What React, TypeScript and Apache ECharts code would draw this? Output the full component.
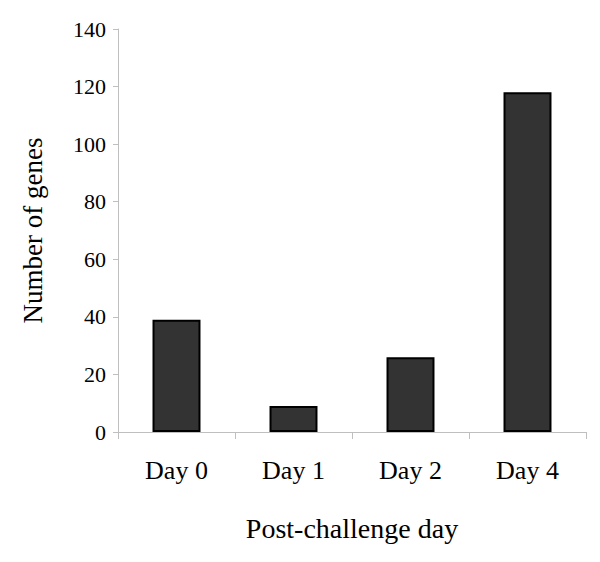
import React, { useEffect, useRef } from "react";
import * as echarts from "echarts";

const categories = ["Day 0", "Day 1", "Day 2", "Day 4"];
const geneCounts = [39, 9, 26, 118];
const yTicks = { min: 0, max: 140, interval: 20 };
const xTitle = "Post-challenge day";
const yTitle = "Number of genes";

export default function App() {
  const ref = useRef<HTMLDivElement>(null);
  useEffect(() => {
    if (!ref.current) return;
    const chart = echarts.init(ref.current, null, { renderer: "svg" });
    const font = "'Liberation Serif', 'Times New Roman', serif";
    const axisGray = "#bfbfbf";
    chart.setOption({
      animation: false,
      backgroundColor: "#ffffff",
      grid: { left: 118, right: 14, top: 29, bottom: 130, containLabel: false },
      xAxis: {
        type: "category",
        data: categories,
        boundaryGap: true,
        name: xTitle,
        nameLocation: "middle",
        nameGap: 82,
        nameTextStyle: { fontFamily: font, fontSize: 28, color: "#000" },
        axisLine: { lineStyle: { color: axisGray, width: 1 } },
        axisTick: { show: true, length: 7, lineStyle: { color: axisGray } },
        axisLabel: { fontFamily: font, fontSize: 26, color: "#000", margin: 25 },
        splitLine: { show: false },
      },
      yAxis: {
        type: "value",
        min: yTicks.min,
        max: yTicks.max,
        interval: yTicks.interval,
        name: yTitle,
        nameLocation: "middle",
        nameGap: 72,
        nameTextStyle: { fontFamily: font, fontSize: 27, color: "#000" },
        axisLine: { show: true, lineStyle: { color: axisGray, width: 1 } },
        axisTick: { show: true, length: 5, lineStyle: { color: axisGray } },
        axisLabel: { fontFamily: font, fontSize: 22, color: "#000", margin: 12 },
        splitLine: { show: false },
      },
      series: [
        {
          type: "bar",
          data: geneCounts,
          barWidth: "41%",
          itemStyle: { color: "#333333", borderColor: "#000000", borderWidth: 2 },
        },
      ],
    });
    return () => chart.dispose();
  }, []);
  return <div ref={ref} style={{ width: 600, height: 562, marginLeft: -8, marginTop: -8 }} />;
}
